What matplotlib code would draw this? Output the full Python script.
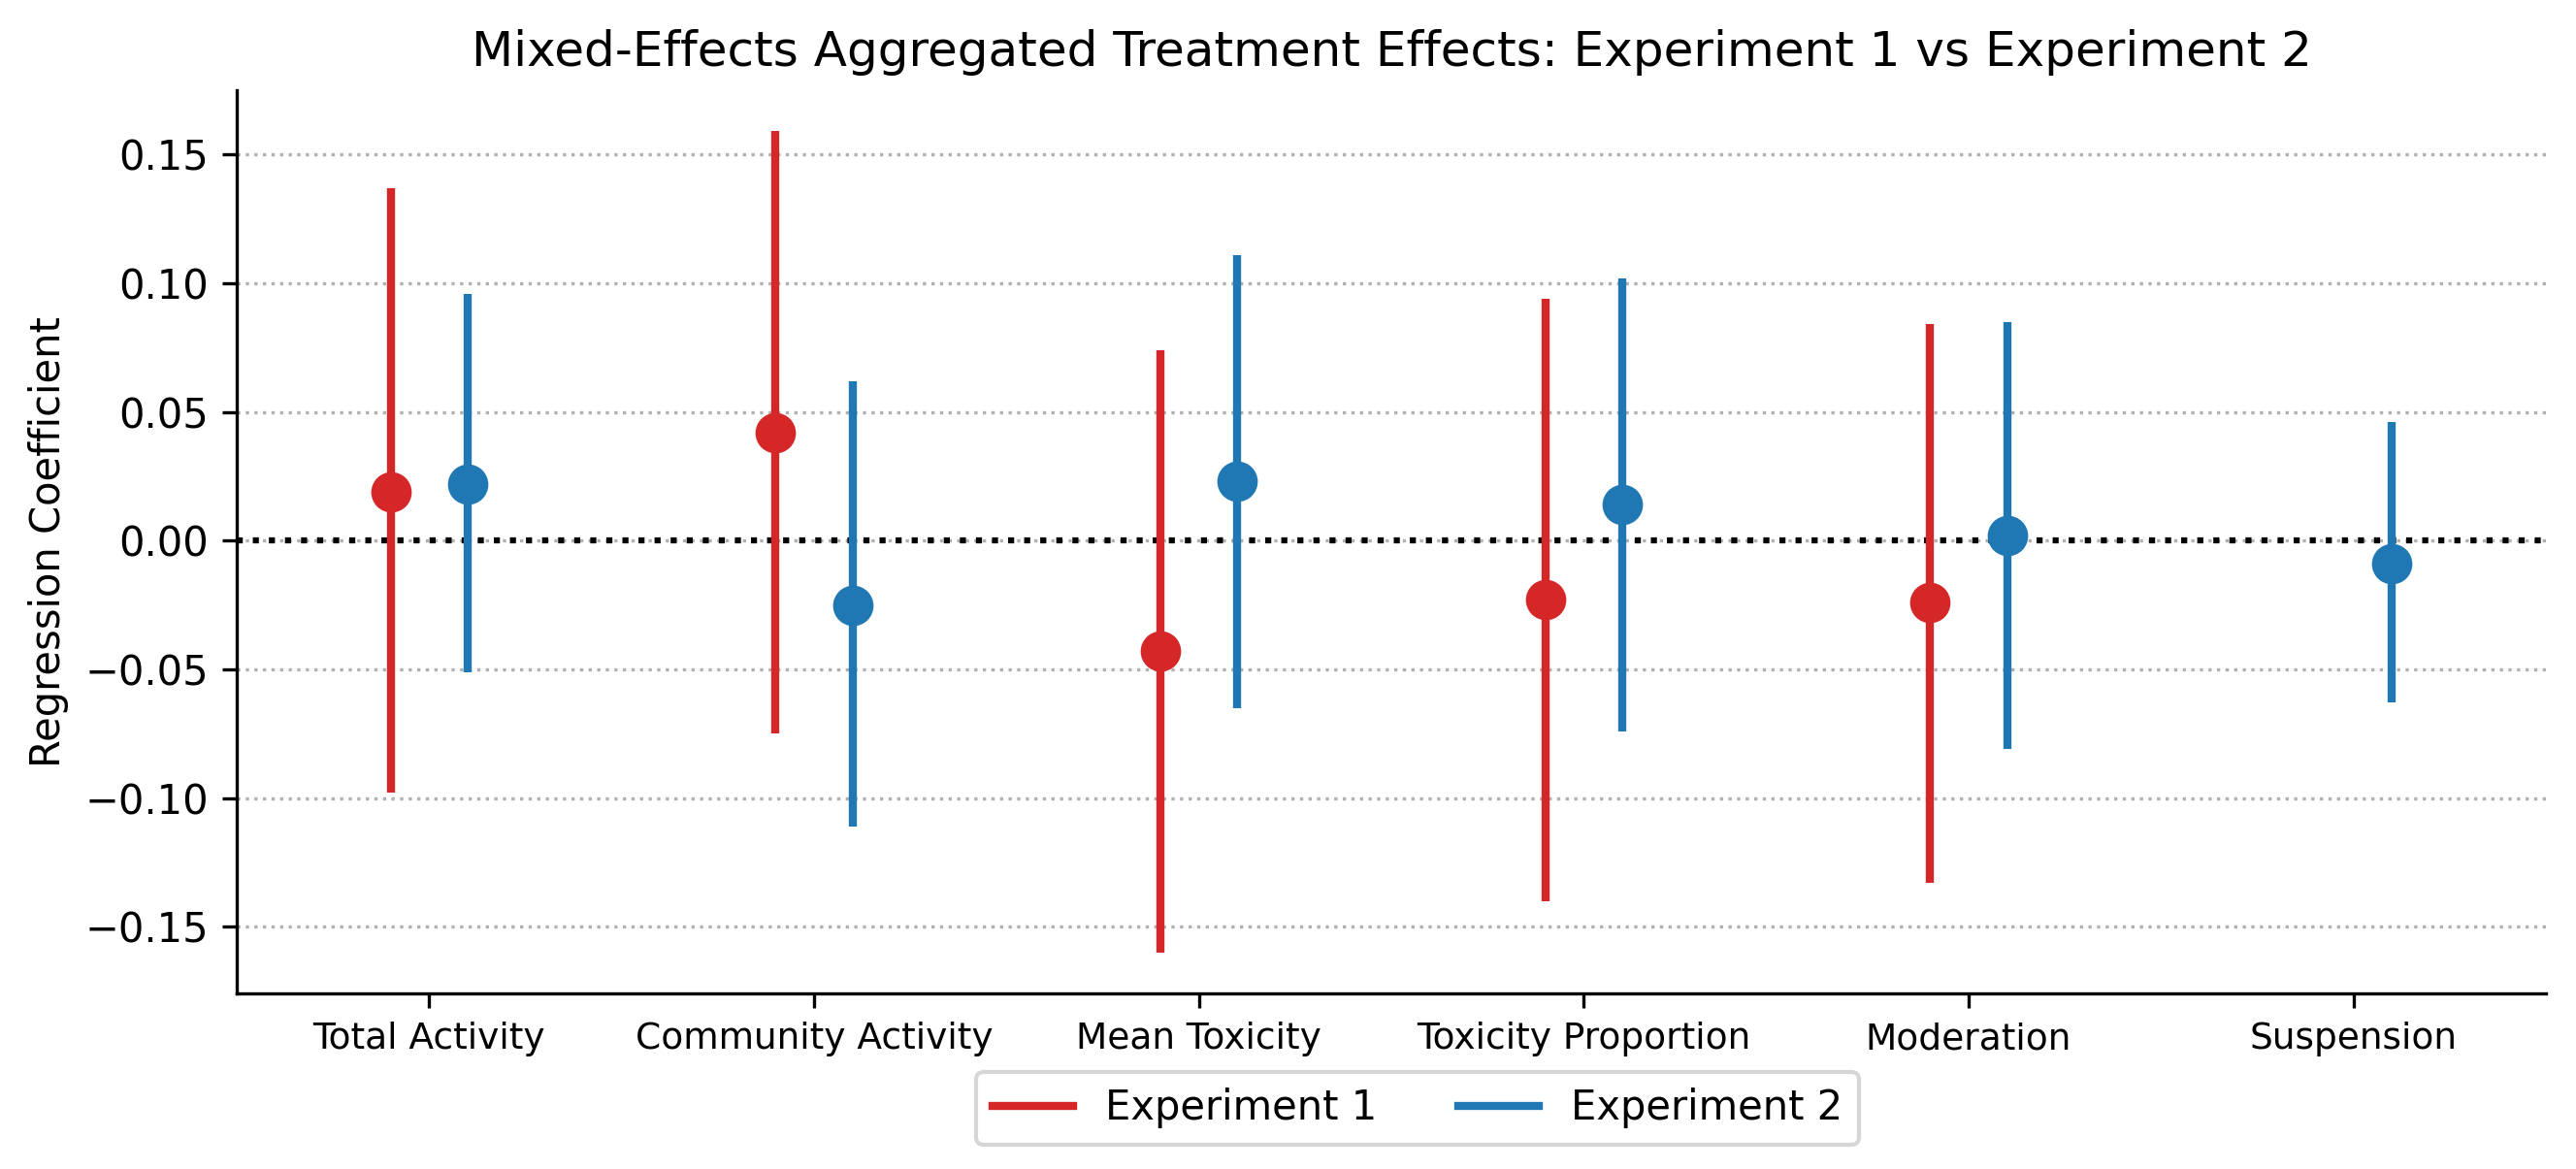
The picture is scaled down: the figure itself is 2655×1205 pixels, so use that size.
import numpy as np
import matplotlib
matplotlib.use("Agg")
import matplotlib.pyplot as plt
from matplotlib.lines import Line2D

# outcome labels
outcomes = ['Total Activity', 'Community Activity', 'Mean Toxicity',
            'Toxicity Proportion', 'Moderation', 'Suspension']

# Experiment 1 (no suspension estimate)
exp1_coef = [0.019, 0.042, -0.043, -0.023, -0.024, np.nan]
exp1_lo = [-0.098, -0.075, -0.160, -0.140, -0.133, np.nan]
exp1_hi = [0.137, 0.159, 0.074, 0.094, 0.084, np.nan]

# Experiment 2
exp2_coef = [0.022, -0.025, 0.023, 0.014, 0.002, -0.009]
exp2_lo = [-0.051, -0.111, -0.065, -0.074, -0.081, -0.063]
exp2_hi = [0.096, 0.062, 0.111, 0.102, 0.085, 0.046]

red = '#d62728'
blue = '#1f77b4'

fig = plt.figure(figsize=(8.85, 4.0167), dpi=300)
ax = fig.add_axes([0.0919, 0.150, 0.8964, 0.7728])

x = np.arange(len(outcomes))
offset = 0.1

def draw(xpos, coef, lo, hi, color):
    coef = np.array(coef)
    lo = np.array(lo)
    hi = np.array(hi)
    ok = ~np.isnan(coef)
    yerr = np.vstack([coef - lo, hi - coef])[:, ok]
    ax.errorbar(xpos[ok], coef[ok], yerr=yerr, fmt='o', color=color,
                ecolor=color, elinewidth=2, markersize=9, capsize=0, zorder=3)

draw(x - offset, exp1_coef, exp1_lo, exp1_hi, red)
draw(x + offset, exp2_coef, exp2_lo, exp2_hi, blue)

ax.axhline(0, color='black', linestyle=':', linewidth=1.5, zorder=2)
ax.yaxis.grid(True, linestyle=':', color='#b0b0b0', linewidth=0.8)
ax.set_axisbelow(True)

ax.set_xticks(x)
ax.set_xticklabels(outcomes, fontsize=9)
ax.set_xlim(-0.5, 5.5)
ax.set_ylim(-0.176, 0.175)
ax.set_ylabel('Regression Coefficient', fontsize=10)
ax.set_title('Mixed-Effects Aggregated Treatment Effects: Experiment 1 vs Experiment 2', fontsize=12)

ax.spines['top'].set_visible(False)
ax.spines['right'].set_visible(False)

handles = [Line2D([0], [0], color=red, lw=2), Line2D([0], [0], color=blue, lw=2)]
fig.legend(handles, ['Experiment 1', 'Experiment 2'], loc='upper center',
           bbox_to_anchor=(0.5503, 0.1005), ncol=2, fontsize=10)

fig.savefig('out.png', dpi=300)
